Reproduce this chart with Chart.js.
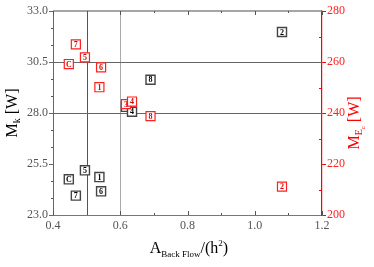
<!DOCTYPE html>
<html><head><meta charset="utf-8">
<script src="https://cdn.jsdelivr.net/npm/chart.js@4"></script>
<style>html,body{margin:0;padding:0;background:#fff;}#wrap{width:374px;height:267px;position:relative;}</style>
</head><body><div id="wrap"><canvas id="c"></canvas></div>
<script>
const caseLabels = ['1','2','3','4','5','6','7','8','C'];
const backFlowArea = [0.538,1.081,0.617,0.635,0.495,0.543,0.468,0.690,0.447];
const mkValues = [24.86,31.97,28.30,28.06,25.19,24.16,23.95,29.63,24.75];
const mhcValues = [250.1,211.1,243.5,244.5,261.8,257.9,266.9,238.8,259.2];
const xTicks = [0.4,0.6,0.8,1.0,1.2];
const xMinorTicks = [0.5,0.7,0.9,1.1];
const mkTicks = [23.0,25.5,28.0,30.5,33.0];
const mkMinorTicks = [23.833,24.667,26.333,27.167,28.833,29.667,31.333,32.167];
const mhcTicks = [200,220,240,260,280];
const mhcMinorTicks = [210,230,250,270];
const refX = [0.5,0.6];
const refMk = [28.0,30.5];

const SERIF = '"Liberation Serif","Times New Roman",serif';

function pts(ys){ return ys.map((y,i)=>({x:backFlowArea[i], y:y, label:caseLabels[i]})); }

const boxLabels = {
  id:'boxLabels',
  afterDatasetDraw(chart, args){
    const ctx = chart.ctx;
    const ds = chart.data.datasets[args.index];
    const meta = args.meta;
    ctx.save();
    ctx.font = 'bold 8px ' + SERIF;
    ctx.textAlign = 'center';
    ctx.textBaseline = 'middle';
    ctx.fillStyle = ds.textColor;
    meta.data.forEach((el,i)=>{
      ctx.fillText(ds.data[i].label, el.x, el.y + 0.5);
    });
    ctx.restore();
  }
};

const decor = {
  id:'decor',
  beforeDatasetsDraw(chart){
    const ctx = chart.ctx, a = chart.chartArea;
    const sx = chart.scales.x, sy = chart.scales.y;
    ctx.save();
    ctx.lineWidth = 1;
    refX.forEach((v,i)=>{
      const p = Math.round(sx.getPixelForValue(v)) + 0.5;
      ctx.strokeStyle = i === 0 ? '#555' : '#aaa';
      ctx.beginPath(); ctx.moveTo(p, a.top); ctx.lineTo(p, a.bottom); ctx.stroke();
    });
    ctx.strokeStyle = '#666';
    refMk.forEach(v=>{
      const p = Math.round(sy.getPixelForValue(v)) + 0.5;
      ctx.beginPath(); ctx.moveTo(a.left, p); ctx.lineTo(a.right, p); ctx.stroke();
    });
    ctx.restore();
  },
  afterDraw(chart){
    const ctx = chart.ctx, a = chart.chartArea;
    const sx = chart.scales.x, sy = chart.scales.y, sy1 = chart.scales.y1;
    ctx.save();
    ctx.strokeStyle = '#888'; ctx.lineWidth = 1.5;
    ctx.beginPath(); ctx.moveTo(a.left, a.top); ctx.lineTo(a.right, a.top); ctx.stroke();
    ctx.lineWidth = 1; ctx.strokeStyle = '#555';
    const xt = (v,len)=>{
      const p = Math.round(sx.getPixelForValue(v)) + 0.5;
      ctx.beginPath(); ctx.moveTo(p, a.bottom); ctx.lineTo(p, a.bottom - len);
      ctx.moveTo(p, a.top); ctx.lineTo(p, a.top + len); ctx.stroke();
    };
    xTicks.forEach(v=>xt(v,4)); xMinorTicks.forEach(v=>xt(v,2));
    mkMinorTicks.forEach(v=>{
      const p = Math.round(sy.getPixelForValue(v)) + 0.5;
      ctx.beginPath(); ctx.moveTo(a.left, p); ctx.lineTo(a.left - 2, p); ctx.stroke();
    });
    ctx.strokeStyle = '#ff0000';
    mhcMinorTicks.forEach(v=>{
      const p = Math.round(sy1.getPixelForValue(v)) + 0.5;
      ctx.beginPath(); ctx.moveTo(a.right, p); ctx.lineTo(a.right - 3, p); ctx.stroke();
    });
    const drawParts = (parts, cx, cy, rot, color)=>{
      ctx.save();
      ctx.translate(cx, cy); ctx.rotate(rot);
      ctx.fillStyle = color; ctx.textBaseline = 'alphabetic'; ctx.textAlign = 'left';
      let w = 0;
      parts.forEach(p=>{ ctx.font = p.size + 'px ' + SERIF; w += ctx.measureText(p.t).width; });
      let x = -w/2;
      parts.forEach(p=>{ ctx.font = p.size + 'px ' + SERIF; ctx.fillText(p.t, x, p.dy || 0); x += ctx.measureText(p.t).width; });
      ctx.restore();
    };
    drawParts([{t:'M',size:16,dy:5},{t:'k',size:10,dy:8},{t:' [W]',size:16,dy:5}], 12, 113, -Math.PI/2, '#000');
    drawParts([{t:'M',size:16,dy:5},{t:'E',size:10,dy:8},{t:'c',size:7,dy:11},{t:' [W]',size:16,dy:5}], 354, 123, -Math.PI/2, '#ff0000');
    drawParts([{t:'A',size:16,dy:0},{t:'Back Flow',size:9,dy:4},{t:'/(h',size:16,dy:0},{t:'2',size:9,dy:-7},{t:')',size:16,dy:0}], 189, 253, 0, '#000');
    ctx.restore();
  }
};

new Chart(document.getElementById('c'), {
  type:'scatter',
  data:{ datasets:[
    { label:'M_Hc', data:pts(mhcValues), yAxisID:'y1', pointStyle:'rect', pointRadius:6.4, pointHoverRadius:6.4,
      backgroundColor:'#fff', borderColor:'#ff2020', borderWidth:1.2, textColor:'#e00000' },
    { label:'M_k', data:pts(mkValues), yAxisID:'y', pointStyle:'rect', pointRadius:6.4, pointHoverRadius:6.4,
      backgroundColor:'#fff', borderColor:'#444', borderWidth:1.4, textColor:'#000' }
  ]},
  plugins:[decor, boxLabels],
  options:{
    responsive:true, maintainAspectRatio:false, animation:false,
    layout:{ padding:{ top:11, left:0, right:0, bottom:0 } },
    plugins:{ legend:{display:false}, tooltip:{enabled:false} },
    scales:{
      x:{ type:'linear', min:0.4, max:1.2,
        afterBuildTicks(s){ s.ticks = xTicks.map(v=>({value:v})); },
        afterFit(s){ s.height = 52; },
        ticks:{ callback:v=>Number(v).toFixed(1), font:{family:SERIF,size:12}, color:'#555', padding:4, maxRotation:0 },
        grid:{ display:true, drawOnChartArea:false, drawTicks:false, color:'#777' },
        border:{ display:true, color:'#777', width:1 } },
      y:{ type:'linear', position:'left', min:23, max:33,
        afterBuildTicks(s){ s.ticks = mkTicks.map(v=>({value:v})); },
        afterFit(s){ s.width = 53; },
        ticks:{ callback:v=>Number(v).toFixed(1), font:{family:SERIF,size:12}, color:'#555', padding:1 },
        grid:{ display:true, drawOnChartArea:false, drawTicks:true, tickLength:4, color:'#666' },
        border:{ display:true, color:'#666', width:1 } },
      y1:{ type:'linear', position:'right', min:200, max:280,
        afterBuildTicks(s){ s.ticks = mhcTicks.map(v=>({value:v})); },
        afterFit(s){ s.width = 52; },
        ticks:{ callback:v=>String(v), font:{family:SERIF,size:12}, color:'#ff2020', padding:1 },
        grid:{ display:true, drawOnChartArea:false, drawTicks:true, tickLength:4, color:'#ff0000' },
        border:{ display:true, color:'#ff0000', width:1.2 } }
    }
  }
});
</script></body></html>
